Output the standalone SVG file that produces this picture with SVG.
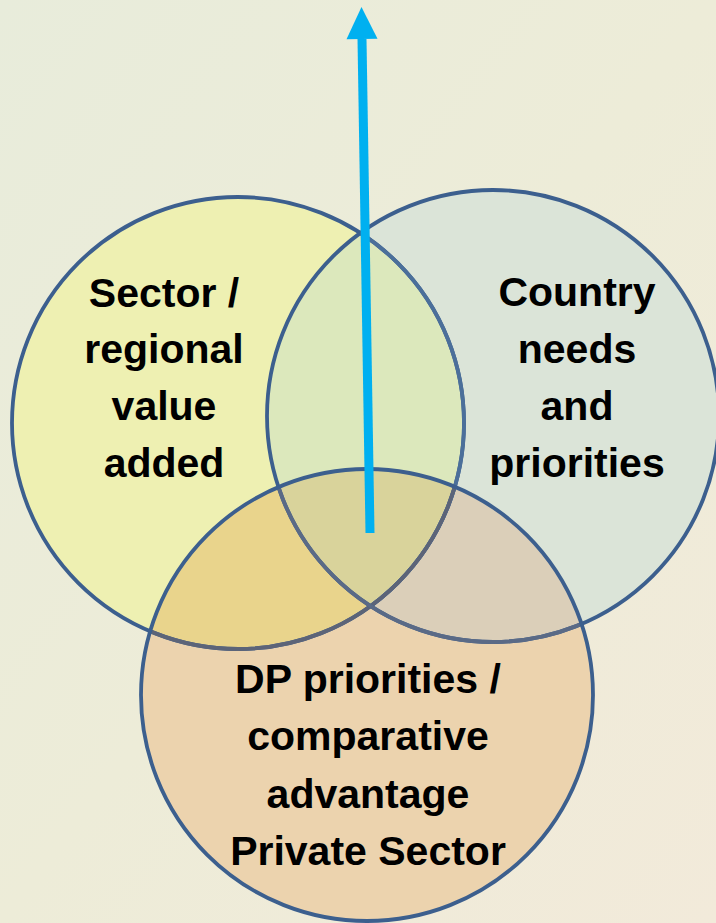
<svg xmlns="http://www.w3.org/2000/svg" width="716" height="923" viewBox="0 0 716 923">
  <style>
    .ring { fill: none; stroke: #3c5f8e; stroke-width: 3.8; }
    .lbl { font-family: "Liberation Sans", Arial, sans-serif; font-weight: bold; font-size: 41px; fill: #000; text-anchor: middle; }
    .arrow { stroke: #00b0f0; stroke-width: 9; fill: none; }
  </style>
  <defs>
    <linearGradient id="bg" x1="0" y1="0" x2="1" y2="1">
      <stop offset="0" stop-color="#e8ecdb"/>
      <stop offset="0.5" stop-color="#edecd8"/>
      <stop offset="1" stop-color="#f2eada"/>
    </linearGradient>
    <clipPath id="cL"><circle cx="238" cy="423" r="226"/></clipPath>
    <clipPath id="cR"><circle cx="493" cy="416" r="226"/></clipPath>
    <clipPath id="cB"><circle cx="367" cy="695" r="226"/></clipPath>
    <marker id="head" markerUnits="userSpaceOnUse" markerWidth="34" markerHeight="34" refX="0" refY="15.5" orient="auto" overflow="visible">
      <path d="M0,0 L32,15.5 L0,31 Z" fill="#00b0f0"/>
    </marker>
  </defs>
  <rect width="716" height="923" fill="url(#bg)"/>

  <g id="fills">
    <circle cx="238" cy="423" r="226" fill="#eef0b2"/>
    <circle cx="493" cy="416" r="226" fill="#dbe4d8"/>
    <circle cx="367" cy="695" r="226" fill="#ecd3ae"/>
    <circle cx="493" cy="416" r="226" fill="#dce8bc" clip-path="url(#cL)"/>
    <circle cx="367" cy="695" r="226" fill="#e9d48c" clip-path="url(#cL)"/>
    <circle cx="367" cy="695" r="226" fill="#dbcfb9" clip-path="url(#cR)"/>
    <g clip-path="url(#cR)">
      <circle cx="367" cy="695" r="226" fill="#d9d39b" clip-path="url(#cL)"/>
    </g>
  </g>

  <g id="node-sector">
    <circle class="ring" cx="238" cy="423" r="226"/>
    <g clip-path="url(#cR)"><circle class="ring" cx="238" cy="423" r="226" style="stroke:#4b6f9a"/></g>
    <g clip-path="url(#cB)"><circle class="ring" cx="238" cy="423" r="226" style="stroke:#5c6478"/></g>
    <text class="lbl" x="164" y="307">Sector /</text>
    <text class="lbl" x="164" y="363">regional</text>
    <text class="lbl" x="164" y="420">value</text>
    <text class="lbl" x="164" y="477">added</text>
  </g>

  <g id="node-country">
    <circle class="ring" cx="493" cy="416" r="226"/>
    <g clip-path="url(#cB)"><circle class="ring" cx="493" cy="416" r="226" style="stroke:#5a6a86"/></g>
    <text class="lbl" x="577" y="306">Country</text>
    <text class="lbl" x="577" y="363">needs</text>
    <text class="lbl" x="577" y="420">and</text>
    <text class="lbl" x="577" y="477">priorities</text>
  </g>

  <g id="node-dp">
    <circle class="ring" cx="367" cy="695" r="226"/>
    <text class="lbl" x="368" y="693">DP priorities /</text>
    <text class="lbl" x="368" y="750">comparative</text>
    <text class="lbl" x="368" y="808">advantage</text>
    <text class="lbl" x="368" y="865">Private Sector</text>
  </g>

  <g id="connectors">
    <line class="arrow" x1="370" y1="533" x2="362" y2="39" marker-end="url(#head)"/>
  </g>
</svg>
